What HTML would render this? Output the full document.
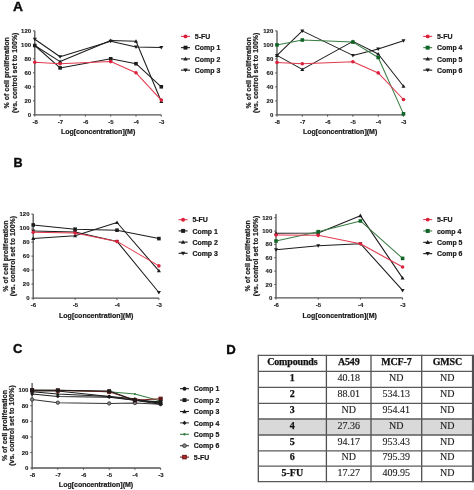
<!DOCTYPE html><html><head><meta charset="utf-8"><style>html,body{margin:0;padding:0;background:#fff;width:474px;height:490px;overflow:hidden}svg{display:block;filter:blur(0.3px)}</style></head><body>
<svg width="474" height="490" viewBox="0 0 474 490" font-family='"Liberation Sans", sans-serif'>
<rect width="474" height="490" fill="#fff"/>
<g transform="translate(12.9,11.4) scale(1.1,1)">
<text x="0.00" y="0.00" text-anchor="start" font-size="12.6" font-weight="bold" fill="#0a0a0a" stroke="#0a0a0a" stroke-width="0.35">A</text>
</g>
<g transform="translate(13.6,167.0) scale(1.0,1)">
<text x="0.00" y="0.00" text-anchor="start" font-size="12.6" font-weight="bold" fill="#0a0a0a" stroke="#0a0a0a" stroke-width="0.35">B</text>
</g>
<g transform="translate(13.0,353.4) scale(1.0,1)">
<text x="0.00" y="0.00" text-anchor="start" font-size="13.0" font-weight="bold" fill="#0a0a0a" stroke="#0a0a0a" stroke-width="0.35">C</text>
</g>
<g transform="translate(226.2,354.0) scale(1.0,1)">
<text x="0.00" y="0.00" text-anchor="start" font-size="13.2" font-weight="bold" fill="#0a0a0a" stroke="#0a0a0a" stroke-width="0.35">D</text>
</g>
<path d="M34.80,39.20 L60.10,56.70 L110.70,41.30 L136.00,46.90 L161.30,47.60" fill="none" stroke="#1c1c1c" stroke-width="1.05" stroke-linejoin="round"/>
<path d="M34.80,45.50 L60.10,61.60 L110.70,40.60 L136.00,41.30 L161.30,101.50" fill="none" stroke="#1c1c1c" stroke-width="1.05" stroke-linejoin="round"/>
<path d="M34.80,45.50 L60.10,67.90 L110.70,58.80 L136.00,63.70 L161.30,86.80" fill="none" stroke="#1c1c1c" stroke-width="1.05" stroke-linejoin="round"/>
<path d="M34.80,62.30 L60.10,63.70 L110.70,61.60 L136.00,72.80 L161.30,100.10" fill="none" stroke="#e23a4e" stroke-width="1.05" stroke-linejoin="round"/>
<path d="M34.80,30.80 L34.80,114.80 L161.30,114.80" fill="none" stroke="#555555" stroke-width="1.3"/>
<path d="M33.00,114.80 H34.80" stroke="#555555" stroke-width="1"/>
<text x="31.10" y="116.90" text-anchor="end" font-size="6.0" font-weight="bold" fill="#1a1a1a" stroke="#1a1a1a" stroke-width="0.12">0</text>
<path d="M33.00,100.80 H34.80" stroke="#555555" stroke-width="1"/>
<text x="31.10" y="102.90" text-anchor="end" font-size="6.0" font-weight="bold" fill="#1a1a1a" stroke="#1a1a1a" stroke-width="0.12">20</text>
<path d="M33.00,86.80 H34.80" stroke="#555555" stroke-width="1"/>
<text x="31.10" y="88.90" text-anchor="end" font-size="6.0" font-weight="bold" fill="#1a1a1a" stroke="#1a1a1a" stroke-width="0.12">40</text>
<path d="M33.00,72.80 H34.80" stroke="#555555" stroke-width="1"/>
<text x="31.10" y="74.90" text-anchor="end" font-size="6.0" font-weight="bold" fill="#1a1a1a" stroke="#1a1a1a" stroke-width="0.12">60</text>
<path d="M33.00,58.80 H34.80" stroke="#555555" stroke-width="1"/>
<text x="31.10" y="60.90" text-anchor="end" font-size="6.0" font-weight="bold" fill="#1a1a1a" stroke="#1a1a1a" stroke-width="0.12">80</text>
<path d="M33.00,44.80 H34.80" stroke="#555555" stroke-width="1"/>
<text x="31.10" y="46.90" text-anchor="end" font-size="6.0" font-weight="bold" fill="#1a1a1a" stroke="#1a1a1a" stroke-width="0.12">100</text>
<path d="M33.00,30.80 H34.80" stroke="#555555" stroke-width="1"/>
<text x="31.10" y="32.90" text-anchor="end" font-size="6.0" font-weight="bold" fill="#1a1a1a" stroke="#1a1a1a" stroke-width="0.12">120</text>
<path d="M34.80,114.80 V116.60" stroke="#555555" stroke-width="1"/>
<text x="35.10" y="124.10" text-anchor="middle" font-size="6.0" font-weight="bold" fill="#1a1a1a" stroke="#1a1a1a" stroke-width="0.12">-8</text>
<path d="M60.10,114.80 V116.60" stroke="#555555" stroke-width="1"/>
<text x="60.40" y="124.10" text-anchor="middle" font-size="6.0" font-weight="bold" fill="#1a1a1a" stroke="#1a1a1a" stroke-width="0.12">-7</text>
<path d="M85.40,114.80 V116.60" stroke="#555555" stroke-width="1"/>
<text x="85.70" y="124.10" text-anchor="middle" font-size="6.0" font-weight="bold" fill="#1a1a1a" stroke="#1a1a1a" stroke-width="0.12">-6</text>
<path d="M110.70,114.80 V116.60" stroke="#555555" stroke-width="1"/>
<text x="111.00" y="124.10" text-anchor="middle" font-size="6.0" font-weight="bold" fill="#1a1a1a" stroke="#1a1a1a" stroke-width="0.12">-5</text>
<path d="M136.00,114.80 V116.60" stroke="#555555" stroke-width="1"/>
<text x="136.30" y="124.10" text-anchor="middle" font-size="6.0" font-weight="bold" fill="#1a1a1a" stroke="#1a1a1a" stroke-width="0.12">-4</text>
<path d="M161.30,114.80 V116.60" stroke="#555555" stroke-width="1"/>
<text x="161.60" y="124.10" text-anchor="middle" font-size="6.0" font-weight="bold" fill="#1a1a1a" stroke="#1a1a1a" stroke-width="0.12">-3</text>
<path d="M34.80,41.22 L36.82,37.69 L32.78,37.69Z" fill="#1c1c1c"/>
<path d="M60.10,58.72 L62.12,55.19 L58.08,55.19Z" fill="#1c1c1c"/>
<path d="M110.70,43.32 L112.72,39.79 L108.68,39.79Z" fill="#1c1c1c"/>
<path d="M136.00,48.92 L138.02,45.39 L133.98,45.39Z" fill="#1c1c1c"/>
<path d="M161.30,49.62 L163.32,46.09 L159.28,46.09Z" fill="#1c1c1c"/>
<path d="M34.80,43.48 L36.82,47.01 L32.78,47.01Z" fill="#1c1c1c"/>
<path d="M60.10,59.58 L62.12,63.11 L58.08,63.11Z" fill="#1c1c1c"/>
<path d="M110.70,38.58 L112.72,42.11 L108.68,42.11Z" fill="#1c1c1c"/>
<path d="M136.00,39.28 L138.02,42.81 L133.98,42.81Z" fill="#1c1c1c"/>
<path d="M161.30,99.48 L163.32,103.01 L159.28,103.01Z" fill="#1c1c1c"/>
<rect x="33.01" y="43.71" width="3.58" height="3.58" fill="#1c1c1c"/>
<rect x="58.31" y="66.11" width="3.58" height="3.58" fill="#1c1c1c"/>
<rect x="108.91" y="57.01" width="3.58" height="3.58" fill="#1c1c1c"/>
<rect x="134.21" y="61.91" width="3.58" height="3.58" fill="#1c1c1c"/>
<rect x="159.51" y="85.01" width="3.58" height="3.58" fill="#1c1c1c"/>
<circle cx="34.80" cy="62.30" r="1.79" fill="#dc1f3a"/>
<circle cx="60.10" cy="63.70" r="1.79" fill="#dc1f3a"/>
<circle cx="110.70" cy="61.60" r="1.79" fill="#dc1f3a"/>
<circle cx="136.00" cy="72.80" r="1.79" fill="#dc1f3a"/>
<circle cx="161.30" cy="100.10" r="1.79" fill="#dc1f3a"/>
<text x="98.10" y="134.00" text-anchor="middle" font-size="7.0" font-weight="bold" fill="#1a1a1a" stroke="#1a1a1a" stroke-width="0.22">Log[concentration](M)</text>
<g transform="translate(9.20,72.80) rotate(-90)">
<text x="0.00" y="0.00" text-anchor="middle" font-size="7.0" font-weight="bold" fill="#1a1a1a" stroke="#1a1a1a" stroke-width="0.22">% of cell proliferation</text>
</g>
<g transform="translate(17.20,72.80) rotate(-90)">
<text x="0.00" y="0.00" text-anchor="middle" font-size="7.0" font-weight="bold" fill="#1a1a1a" stroke="#1a1a1a" stroke-width="0.22">(vs. control set to 100%)</text>
</g>
<path d="M181.00,36.40 H190.00" stroke="#e23a4e" stroke-width="1.1"/>
<circle cx="185.50" cy="36.40" r="1.97" fill="#dc1f3a"/>
<text x="194.80" y="39.00" text-anchor="start" font-size="6.95" font-weight="bold" fill="#1a1a1a" stroke="#1a1a1a" stroke-width="0.22">5-FU</text>
<path d="M181.00,47.65 H190.00" stroke="#1c1c1c" stroke-width="1.1"/>
<rect x="183.53" y="45.68" width="3.94" height="3.94" fill="#1c1c1c"/>
<text x="194.80" y="50.25" text-anchor="start" font-size="6.95" font-weight="bold" fill="#1a1a1a" stroke="#1a1a1a" stroke-width="0.22">Comp 1</text>
<path d="M181.00,58.90 H190.00" stroke="#1c1c1c" stroke-width="1.1"/>
<path d="M185.50,56.68 L187.72,60.56 L183.28,60.56Z" fill="#1c1c1c"/>
<text x="194.80" y="61.50" text-anchor="start" font-size="6.95" font-weight="bold" fill="#1a1a1a" stroke="#1a1a1a" stroke-width="0.22">Comp 2</text>
<path d="M181.00,70.15 H190.00" stroke="#1c1c1c" stroke-width="1.1"/>
<path d="M185.50,72.37 L187.72,68.49 L183.28,68.49Z" fill="#1c1c1c"/>
<text x="194.80" y="72.75" text-anchor="start" font-size="6.95" font-weight="bold" fill="#1a1a1a" stroke="#1a1a1a" stroke-width="0.22">Comp 3</text>
<path d="M277.00,55.40 L302.30,30.90 L352.90,55.40 L378.20,49.10 L403.50,40.70" fill="none" stroke="#1c1c1c" stroke-width="1.05" stroke-linejoin="round"/>
<path d="M277.00,55.40 L302.30,69.40 L352.90,41.40 L378.20,54.00 L403.50,86.20" fill="none" stroke="#1c1c1c" stroke-width="1.05" stroke-linejoin="round"/>
<path d="M277.00,44.90 L302.30,40.00 L352.90,42.10 L378.20,57.50 L403.50,113.85" fill="none" stroke="#3a7d42" stroke-width="1.05" stroke-linejoin="round"/>
<path d="M277.00,62.40 L302.30,63.80 L352.90,61.70 L378.20,72.90 L403.50,99.50" fill="none" stroke="#e23a4e" stroke-width="1.05" stroke-linejoin="round"/>
<path d="M277.00,30.80 L277.00,114.90 L403.50,114.90" fill="none" stroke="#555555" stroke-width="1.3"/>
<path d="M275.20,114.90 H277.00" stroke="#555555" stroke-width="1"/>
<text x="273.30" y="117.00" text-anchor="end" font-size="6.0" font-weight="bold" fill="#1a1a1a" stroke="#1a1a1a" stroke-width="0.12">0</text>
<path d="M275.20,100.90 H277.00" stroke="#555555" stroke-width="1"/>
<text x="273.30" y="103.00" text-anchor="end" font-size="6.0" font-weight="bold" fill="#1a1a1a" stroke="#1a1a1a" stroke-width="0.12">20</text>
<path d="M275.20,86.90 H277.00" stroke="#555555" stroke-width="1"/>
<text x="273.30" y="89.00" text-anchor="end" font-size="6.0" font-weight="bold" fill="#1a1a1a" stroke="#1a1a1a" stroke-width="0.12">40</text>
<path d="M275.20,72.90 H277.00" stroke="#555555" stroke-width="1"/>
<text x="273.30" y="75.00" text-anchor="end" font-size="6.0" font-weight="bold" fill="#1a1a1a" stroke="#1a1a1a" stroke-width="0.12">60</text>
<path d="M275.20,58.90 H277.00" stroke="#555555" stroke-width="1"/>
<text x="273.30" y="61.00" text-anchor="end" font-size="6.0" font-weight="bold" fill="#1a1a1a" stroke="#1a1a1a" stroke-width="0.12">80</text>
<path d="M275.20,44.90 H277.00" stroke="#555555" stroke-width="1"/>
<text x="273.30" y="47.00" text-anchor="end" font-size="6.0" font-weight="bold" fill="#1a1a1a" stroke="#1a1a1a" stroke-width="0.12">100</text>
<path d="M275.20,30.90 H277.00" stroke="#555555" stroke-width="1"/>
<text x="273.30" y="33.00" text-anchor="end" font-size="6.0" font-weight="bold" fill="#1a1a1a" stroke="#1a1a1a" stroke-width="0.12">120</text>
<path d="M277.00,114.90 V116.70" stroke="#555555" stroke-width="1"/>
<text x="277.30" y="124.10" text-anchor="middle" font-size="6.0" font-weight="bold" fill="#1a1a1a" stroke="#1a1a1a" stroke-width="0.12">-8</text>
<path d="M302.30,114.90 V116.70" stroke="#555555" stroke-width="1"/>
<text x="302.60" y="124.10" text-anchor="middle" font-size="6.0" font-weight="bold" fill="#1a1a1a" stroke="#1a1a1a" stroke-width="0.12">-7</text>
<path d="M327.60,114.90 V116.70" stroke="#555555" stroke-width="1"/>
<text x="327.90" y="124.10" text-anchor="middle" font-size="6.0" font-weight="bold" fill="#1a1a1a" stroke="#1a1a1a" stroke-width="0.12">-6</text>
<path d="M352.90,114.90 V116.70" stroke="#555555" stroke-width="1"/>
<text x="353.20" y="124.10" text-anchor="middle" font-size="6.0" font-weight="bold" fill="#1a1a1a" stroke="#1a1a1a" stroke-width="0.12">-5</text>
<path d="M378.20,114.90 V116.70" stroke="#555555" stroke-width="1"/>
<text x="378.50" y="124.10" text-anchor="middle" font-size="6.0" font-weight="bold" fill="#1a1a1a" stroke="#1a1a1a" stroke-width="0.12">-4</text>
<path d="M403.50,114.90 V116.70" stroke="#555555" stroke-width="1"/>
<text x="403.80" y="124.10" text-anchor="middle" font-size="6.0" font-weight="bold" fill="#1a1a1a" stroke="#1a1a1a" stroke-width="0.12">-3</text>
<path d="M277.00,57.42 L279.02,53.89 L274.98,53.89Z" fill="#1c1c1c"/>
<path d="M302.30,32.92 L304.32,29.39 L300.28,29.39Z" fill="#1c1c1c"/>
<path d="M352.90,57.42 L354.92,53.89 L350.88,53.89Z" fill="#1c1c1c"/>
<path d="M378.20,51.12 L380.22,47.59 L376.18,47.59Z" fill="#1c1c1c"/>
<path d="M403.50,42.72 L405.52,39.19 L401.48,39.19Z" fill="#1c1c1c"/>
<path d="M277.00,53.38 L279.02,56.91 L274.98,56.91Z" fill="#1c1c1c"/>
<path d="M302.30,67.38 L304.32,70.91 L300.28,70.91Z" fill="#1c1c1c"/>
<path d="M352.90,39.38 L354.92,42.91 L350.88,42.91Z" fill="#1c1c1c"/>
<path d="M378.20,51.98 L380.22,55.51 L376.18,55.51Z" fill="#1c1c1c"/>
<path d="M403.50,84.18 L405.52,87.71 L401.48,87.71Z" fill="#1c1c1c"/>
<rect x="275.21" y="43.11" width="3.58" height="3.58" fill="#0e6424"/>
<rect x="300.51" y="38.21" width="3.58" height="3.58" fill="#0e6424"/>
<rect x="351.11" y="40.31" width="3.58" height="3.58" fill="#0e6424"/>
<rect x="376.41" y="55.71" width="3.58" height="3.58" fill="#0e6424"/>
<rect x="401.71" y="112.06" width="3.58" height="3.58" fill="#0e6424"/>
<circle cx="277.00" cy="62.40" r="1.79" fill="#dc1f3a"/>
<circle cx="302.30" cy="63.80" r="1.79" fill="#dc1f3a"/>
<circle cx="352.90" cy="61.70" r="1.79" fill="#dc1f3a"/>
<circle cx="378.20" cy="72.90" r="1.79" fill="#dc1f3a"/>
<circle cx="403.50" cy="99.50" r="1.79" fill="#dc1f3a"/>
<text x="340.10" y="134.00" text-anchor="middle" font-size="7.0" font-weight="bold" fill="#1a1a1a" stroke="#1a1a1a" stroke-width="0.22">Log[concentration](M)</text>
<g transform="translate(251.00,72.85) rotate(-90)">
<text x="0.00" y="0.00" text-anchor="middle" font-size="7.0" font-weight="bold" fill="#1a1a1a" stroke="#1a1a1a" stroke-width="0.22">% of cell proliferation</text>
</g>
<g transform="translate(258.30,72.85) rotate(-90)">
<text x="0.00" y="0.00" text-anchor="middle" font-size="7.0" font-weight="bold" fill="#1a1a1a" stroke="#1a1a1a" stroke-width="0.22">(vs. control set to 100%)</text>
</g>
<path d="M423.20,36.40 H432.20" stroke="#e23a4e" stroke-width="1.1"/>
<circle cx="427.70" cy="36.40" r="1.97" fill="#dc1f3a"/>
<text x="437.00" y="39.00" text-anchor="start" font-size="6.95" font-weight="bold" fill="#1a1a1a" stroke="#1a1a1a" stroke-width="0.22">5-FU</text>
<path d="M423.20,47.65 H432.20" stroke="#3a7d42" stroke-width="1.1"/>
<rect x="425.73" y="45.68" width="3.94" height="3.94" fill="#0e6424"/>
<text x="437.00" y="50.25" text-anchor="start" font-size="6.95" font-weight="bold" fill="#1a1a1a" stroke="#1a1a1a" stroke-width="0.22">Comp 4</text>
<path d="M423.20,58.90 H432.20" stroke="#1c1c1c" stroke-width="1.1"/>
<path d="M427.70,56.68 L429.92,60.56 L425.48,60.56Z" fill="#1c1c1c"/>
<text x="437.00" y="61.50" text-anchor="start" font-size="6.95" font-weight="bold" fill="#1a1a1a" stroke="#1a1a1a" stroke-width="0.22">Comp 5</text>
<path d="M423.20,70.15 H432.20" stroke="#1c1c1c" stroke-width="1.1"/>
<path d="M427.70,72.37 L429.92,68.49 L425.48,68.49Z" fill="#1c1c1c"/>
<text x="437.00" y="72.75" text-anchor="start" font-size="6.95" font-weight="bold" fill="#1a1a1a" stroke="#1a1a1a" stroke-width="0.22">Comp 6</text>
<path d="M33.20,230.90 L75.10,231.95 L117.00,241.40 L158.90,292.50" fill="none" stroke="#1c1c1c" stroke-width="1.05" stroke-linejoin="round"/>
<path d="M33.20,238.60 L75.10,235.80 L117.00,222.50 L158.90,270.80" fill="none" stroke="#1c1c1c" stroke-width="1.05" stroke-linejoin="round"/>
<path d="M33.20,224.95 L75.10,229.15 L117.00,230.20 L158.90,238.60" fill="none" stroke="#1c1c1c" stroke-width="1.05" stroke-linejoin="round"/>
<path d="M33.20,232.30 L75.10,233.00 L117.00,241.40 L158.90,265.90" fill="none" stroke="#e23a4e" stroke-width="1.05" stroke-linejoin="round"/>
<path d="M33.20,214.10 L33.20,298.10 L158.90,298.10" fill="none" stroke="#555555" stroke-width="1.3"/>
<path d="M31.40,298.10 H33.20" stroke="#555555" stroke-width="1"/>
<text x="29.50" y="300.20" text-anchor="end" font-size="6.0" font-weight="bold" fill="#1a1a1a" stroke="#1a1a1a" stroke-width="0.12">0</text>
<path d="M31.40,284.10 H33.20" stroke="#555555" stroke-width="1"/>
<text x="29.50" y="286.20" text-anchor="end" font-size="6.0" font-weight="bold" fill="#1a1a1a" stroke="#1a1a1a" stroke-width="0.12">20</text>
<path d="M31.40,270.10 H33.20" stroke="#555555" stroke-width="1"/>
<text x="29.50" y="272.20" text-anchor="end" font-size="6.0" font-weight="bold" fill="#1a1a1a" stroke="#1a1a1a" stroke-width="0.12">40</text>
<path d="M31.40,256.10 H33.20" stroke="#555555" stroke-width="1"/>
<text x="29.50" y="258.20" text-anchor="end" font-size="6.0" font-weight="bold" fill="#1a1a1a" stroke="#1a1a1a" stroke-width="0.12">60</text>
<path d="M31.40,242.10 H33.20" stroke="#555555" stroke-width="1"/>
<text x="29.50" y="244.20" text-anchor="end" font-size="6.0" font-weight="bold" fill="#1a1a1a" stroke="#1a1a1a" stroke-width="0.12">80</text>
<path d="M31.40,228.10 H33.20" stroke="#555555" stroke-width="1"/>
<text x="29.50" y="230.20" text-anchor="end" font-size="6.0" font-weight="bold" fill="#1a1a1a" stroke="#1a1a1a" stroke-width="0.12">100</text>
<path d="M31.40,214.10 H33.20" stroke="#555555" stroke-width="1"/>
<text x="29.50" y="216.20" text-anchor="end" font-size="6.0" font-weight="bold" fill="#1a1a1a" stroke="#1a1a1a" stroke-width="0.12">120</text>
<path d="M33.20,298.10 V299.90" stroke="#555555" stroke-width="1"/>
<text x="33.50" y="307.10" text-anchor="middle" font-size="6.0" font-weight="bold" fill="#1a1a1a" stroke="#1a1a1a" stroke-width="0.12">-6</text>
<path d="M75.10,298.10 V299.90" stroke="#555555" stroke-width="1"/>
<text x="75.40" y="307.10" text-anchor="middle" font-size="6.0" font-weight="bold" fill="#1a1a1a" stroke="#1a1a1a" stroke-width="0.12">-5</text>
<path d="M117.00,298.10 V299.90" stroke="#555555" stroke-width="1"/>
<text x="117.30" y="307.10" text-anchor="middle" font-size="6.0" font-weight="bold" fill="#1a1a1a" stroke="#1a1a1a" stroke-width="0.12">-4</text>
<path d="M158.90,298.10 V299.90" stroke="#555555" stroke-width="1"/>
<text x="159.20" y="307.10" text-anchor="middle" font-size="6.0" font-weight="bold" fill="#1a1a1a" stroke="#1a1a1a" stroke-width="0.12">-3</text>
<path d="M33.20,232.92 L35.22,229.39 L31.18,229.39Z" fill="#1c1c1c"/>
<path d="M75.10,233.97 L77.12,230.44 L73.08,230.44Z" fill="#1c1c1c"/>
<path d="M117.00,243.42 L119.02,239.89 L114.98,239.89Z" fill="#1c1c1c"/>
<path d="M158.90,294.52 L160.92,290.99 L156.88,290.99Z" fill="#1c1c1c"/>
<path d="M33.20,236.58 L35.22,240.11 L31.18,240.11Z" fill="#1c1c1c"/>
<path d="M75.10,233.78 L77.12,237.31 L73.08,237.31Z" fill="#1c1c1c"/>
<path d="M117.00,220.48 L119.02,224.01 L114.98,224.01Z" fill="#1c1c1c"/>
<path d="M158.90,268.78 L160.92,272.31 L156.88,272.31Z" fill="#1c1c1c"/>
<rect x="31.41" y="223.16" width="3.58" height="3.58" fill="#1c1c1c"/>
<rect x="73.31" y="227.36" width="3.58" height="3.58" fill="#1c1c1c"/>
<rect x="115.21" y="228.41" width="3.58" height="3.58" fill="#1c1c1c"/>
<rect x="157.11" y="236.81" width="3.58" height="3.58" fill="#1c1c1c"/>
<circle cx="33.20" cy="232.30" r="1.79" fill="#dc1f3a"/>
<circle cx="75.10" cy="233.00" r="1.79" fill="#dc1f3a"/>
<circle cx="117.00" cy="241.40" r="1.79" fill="#dc1f3a"/>
<circle cx="158.90" cy="265.90" r="1.79" fill="#dc1f3a"/>
<text x="96.20" y="317.60" text-anchor="middle" font-size="7.0" font-weight="bold" fill="#1a1a1a" stroke="#1a1a1a" stroke-width="0.22">Log[concentration](M)</text>
<g transform="translate(8.20,256.10) rotate(-90)">
<text x="0.00" y="0.00" text-anchor="middle" font-size="7.0" font-weight="bold" fill="#1a1a1a" stroke="#1a1a1a" stroke-width="0.22">% of cell proliferation</text>
</g>
<g transform="translate(15.10,256.10) rotate(-90)">
<text x="0.00" y="0.00" text-anchor="middle" font-size="7.0" font-weight="bold" fill="#1a1a1a" stroke="#1a1a1a" stroke-width="0.22">(vs. control set to 100%)</text>
</g>
<path d="M178.60,219.70 H187.60" stroke="#e23a4e" stroke-width="1.1"/>
<circle cx="183.10" cy="219.70" r="1.97" fill="#dc1f3a"/>
<text x="192.40" y="222.30" text-anchor="start" font-size="6.95" font-weight="bold" fill="#1a1a1a" stroke="#1a1a1a" stroke-width="0.22">5-FU</text>
<path d="M178.60,230.90 H187.60" stroke="#1c1c1c" stroke-width="1.1"/>
<rect x="181.13" y="228.93" width="3.94" height="3.94" fill="#1c1c1c"/>
<text x="192.40" y="233.50" text-anchor="start" font-size="6.95" font-weight="bold" fill="#1a1a1a" stroke="#1a1a1a" stroke-width="0.22">Comp 1</text>
<path d="M178.60,242.10 H187.60" stroke="#1c1c1c" stroke-width="1.1"/>
<path d="M183.10,239.88 L185.32,243.76 L180.88,243.76Z" fill="#1c1c1c"/>
<text x="192.40" y="244.70" text-anchor="start" font-size="6.95" font-weight="bold" fill="#1a1a1a" stroke="#1a1a1a" stroke-width="0.22">Comp 2</text>
<path d="M178.60,253.30 H187.60" stroke="#1c1c1c" stroke-width="1.1"/>
<path d="M183.10,255.52 L185.32,251.64 L180.88,251.64Z" fill="#1c1c1c"/>
<text x="192.40" y="255.90" text-anchor="start" font-size="6.95" font-weight="bold" fill="#1a1a1a" stroke="#1a1a1a" stroke-width="0.22">Comp 3</text>
<path d="M276.00,249.70 L318.20,245.70 L360.40,243.69 L402.60,290.45" fill="none" stroke="#1c1c1c" stroke-width="1.05" stroke-linejoin="round"/>
<path d="M276.00,233.34 L318.20,233.00 L360.40,215.64 L402.60,278.09" fill="none" stroke="#1c1c1c" stroke-width="1.05" stroke-linejoin="round"/>
<path d="M276.00,241.02 L318.20,231.67 L360.40,220.98 L402.60,258.39" fill="none" stroke="#3a7d42" stroke-width="1.05" stroke-linejoin="round"/>
<path d="M276.00,235.01 L318.20,235.34 L360.40,243.69 L402.60,267.07" fill="none" stroke="#e23a4e" stroke-width="1.05" stroke-linejoin="round"/>
<path d="M276.00,214.00 L276.00,297.80 L402.60,297.80" fill="none" stroke="#555555" stroke-width="1.3"/>
<path d="M274.20,297.80 H276.00" stroke="#555555" stroke-width="1"/>
<text x="272.30" y="299.90" text-anchor="end" font-size="6.0" font-weight="bold" fill="#1a1a1a" stroke="#1a1a1a" stroke-width="0.12">0</text>
<path d="M274.20,284.44 H276.00" stroke="#555555" stroke-width="1"/>
<text x="272.30" y="286.54" text-anchor="end" font-size="6.0" font-weight="bold" fill="#1a1a1a" stroke="#1a1a1a" stroke-width="0.12">20</text>
<path d="M274.20,271.08 H276.00" stroke="#555555" stroke-width="1"/>
<text x="272.30" y="273.18" text-anchor="end" font-size="6.0" font-weight="bold" fill="#1a1a1a" stroke="#1a1a1a" stroke-width="0.12">40</text>
<path d="M274.20,257.72 H276.00" stroke="#555555" stroke-width="1"/>
<text x="272.30" y="259.82" text-anchor="end" font-size="6.0" font-weight="bold" fill="#1a1a1a" stroke="#1a1a1a" stroke-width="0.12">60</text>
<path d="M274.20,244.36 H276.00" stroke="#555555" stroke-width="1"/>
<text x="272.30" y="246.46" text-anchor="end" font-size="6.0" font-weight="bold" fill="#1a1a1a" stroke="#1a1a1a" stroke-width="0.12">80</text>
<path d="M274.20,231.00 H276.00" stroke="#555555" stroke-width="1"/>
<text x="272.30" y="233.10" text-anchor="end" font-size="6.0" font-weight="bold" fill="#1a1a1a" stroke="#1a1a1a" stroke-width="0.12">100</text>
<path d="M274.20,217.64 H276.00" stroke="#555555" stroke-width="1"/>
<text x="272.30" y="219.74" text-anchor="end" font-size="6.0" font-weight="bold" fill="#1a1a1a" stroke="#1a1a1a" stroke-width="0.12">120</text>
<path d="M276.00,297.80 V299.60" stroke="#555555" stroke-width="1"/>
<text x="276.30" y="307.10" text-anchor="middle" font-size="6.0" font-weight="bold" fill="#1a1a1a" stroke="#1a1a1a" stroke-width="0.12">-6</text>
<path d="M318.20,297.80 V299.60" stroke="#555555" stroke-width="1"/>
<text x="318.50" y="307.10" text-anchor="middle" font-size="6.0" font-weight="bold" fill="#1a1a1a" stroke="#1a1a1a" stroke-width="0.12">-5</text>
<path d="M360.40,297.80 V299.60" stroke="#555555" stroke-width="1"/>
<text x="360.70" y="307.10" text-anchor="middle" font-size="6.0" font-weight="bold" fill="#1a1a1a" stroke="#1a1a1a" stroke-width="0.12">-4</text>
<path d="M402.60,297.80 V299.60" stroke="#555555" stroke-width="1"/>
<text x="402.90" y="307.10" text-anchor="middle" font-size="6.0" font-weight="bold" fill="#1a1a1a" stroke="#1a1a1a" stroke-width="0.12">-3</text>
<path d="M276.00,251.72 L278.02,248.19 L273.98,248.19Z" fill="#1c1c1c"/>
<path d="M318.20,247.71 L320.22,244.18 L316.18,244.18Z" fill="#1c1c1c"/>
<path d="M360.40,245.71 L362.42,242.18 L358.38,242.18Z" fill="#1c1c1c"/>
<path d="M402.60,292.47 L404.62,288.94 L400.58,288.94Z" fill="#1c1c1c"/>
<path d="M276.00,231.32 L278.02,234.85 L273.98,234.85Z" fill="#1c1c1c"/>
<path d="M318.20,230.99 L320.22,234.52 L316.18,234.52Z" fill="#1c1c1c"/>
<path d="M360.40,213.62 L362.42,217.15 L358.38,217.15Z" fill="#1c1c1c"/>
<path d="M402.60,276.08 L404.62,279.61 L400.58,279.61Z" fill="#1c1c1c"/>
<rect x="274.21" y="239.23" width="3.58" height="3.58" fill="#0e6424"/>
<rect x="316.41" y="229.88" width="3.58" height="3.58" fill="#0e6424"/>
<rect x="358.61" y="219.19" width="3.58" height="3.58" fill="#0e6424"/>
<rect x="400.81" y="256.60" width="3.58" height="3.58" fill="#0e6424"/>
<circle cx="276.00" cy="235.01" r="1.79" fill="#dc1f3a"/>
<circle cx="318.20" cy="235.34" r="1.79" fill="#dc1f3a"/>
<circle cx="360.40" cy="243.69" r="1.79" fill="#dc1f3a"/>
<circle cx="402.60" cy="267.07" r="1.79" fill="#dc1f3a"/>
<text x="339.70" y="318.00" text-anchor="middle" font-size="7.0" font-weight="bold" fill="#1a1a1a" stroke="#1a1a1a" stroke-width="0.22">Log[concentration](M)</text>
<g transform="translate(250.30,255.90) rotate(-90)">
<text x="0.00" y="0.00" text-anchor="middle" font-size="7.0" font-weight="bold" fill="#1a1a1a" stroke="#1a1a1a" stroke-width="0.22">% of cell proliferation</text>
</g>
<g transform="translate(257.60,255.90) rotate(-90)">
<text x="0.00" y="0.00" text-anchor="middle" font-size="7.0" font-weight="bold" fill="#1a1a1a" stroke="#1a1a1a" stroke-width="0.22">(vs. control set to 100%)</text>
</g>
<path d="M423.20,219.60 H432.20" stroke="#e23a4e" stroke-width="1.1"/>
<circle cx="427.70" cy="219.60" r="1.97" fill="#dc1f3a"/>
<text x="437.00" y="222.20" text-anchor="start" font-size="6.95" font-weight="bold" fill="#1a1a1a" stroke="#1a1a1a" stroke-width="0.22">5-FU</text>
<path d="M423.20,230.95 H432.20" stroke="#3a7d42" stroke-width="1.1"/>
<rect x="425.73" y="228.98" width="3.94" height="3.94" fill="#0e6424"/>
<text x="437.00" y="233.55" text-anchor="start" font-size="6.95" font-weight="bold" fill="#1a1a1a" stroke="#1a1a1a" stroke-width="0.22">comp 4</text>
<path d="M423.20,242.30 H432.20" stroke="#1c1c1c" stroke-width="1.1"/>
<path d="M427.70,240.08 L429.92,243.96 L425.48,243.96Z" fill="#1c1c1c"/>
<text x="437.00" y="244.90" text-anchor="start" font-size="6.95" font-weight="bold" fill="#1a1a1a" stroke="#1a1a1a" stroke-width="0.22">Comp 5</text>
<path d="M423.20,253.65 H432.20" stroke="#1c1c1c" stroke-width="1.1"/>
<path d="M427.70,255.87 L429.92,251.99 L425.48,251.99Z" fill="#1c1c1c"/>
<text x="437.00" y="256.25" text-anchor="start" font-size="6.95" font-weight="bold" fill="#1a1a1a" stroke="#1a1a1a" stroke-width="0.22">Comp 6</text>
<path d="M32.10,399.54 L57.80,402.65 L109.20,403.43 L134.90,403.04 L160.60,404.20" fill="none" stroke="#333" stroke-width="1.05" stroke-linejoin="round"/>
<path d="M32.10,394.09 L57.80,396.42 L109.20,397.20 L134.90,400.31 L160.60,404.20" fill="none" stroke="#1c1c1c" stroke-width="1.05" stroke-linejoin="round"/>
<path d="M32.10,391.76 L57.80,394.09 L109.20,396.42 L134.90,398.76 L160.60,403.43" fill="none" stroke="#1c1c1c" stroke-width="1.05" stroke-linejoin="round"/>
<path d="M32.10,390.98 L57.80,390.98 L109.20,396.42 L134.90,400.31 L160.60,402.65" fill="none" stroke="#1c1c1c" stroke-width="1.05" stroke-linejoin="round"/>
<path d="M32.10,390.20 L57.80,390.20 L109.20,391.76 L134.90,394.09 L160.60,401.09" fill="none" stroke="#3a7d42" stroke-width="1.05" stroke-linejoin="round"/>
<path d="M32.10,390.20 L57.80,390.59 L109.20,391.76 L134.90,400.31 L160.60,398.76" fill="none" stroke="#7a2020" stroke-width="1.05" stroke-linejoin="round"/>
<path d="M32.10,390.20 L57.80,390.20 L109.20,390.98 L134.90,400.31 L160.60,401.87" fill="none" stroke="#1c1c1c" stroke-width="1.05" stroke-linejoin="round"/>
<path d="M32.10,383.00 L32.10,468.00 L160.60,468.00" fill="none" stroke="#555555" stroke-width="1.3"/>
<path d="M30.30,468.00 H32.10" stroke="#555555" stroke-width="1"/>
<text x="28.40" y="470.10" text-anchor="end" font-size="6.0" font-weight="bold" fill="#1a1a1a" stroke="#1a1a1a" stroke-width="0.12">0</text>
<path d="M30.30,452.44 H32.10" stroke="#555555" stroke-width="1"/>
<text x="28.40" y="454.54" text-anchor="end" font-size="6.0" font-weight="bold" fill="#1a1a1a" stroke="#1a1a1a" stroke-width="0.12">20</text>
<path d="M30.30,436.88 H32.10" stroke="#555555" stroke-width="1"/>
<text x="28.40" y="438.98" text-anchor="end" font-size="6.0" font-weight="bold" fill="#1a1a1a" stroke="#1a1a1a" stroke-width="0.12">40</text>
<path d="M30.30,421.32 H32.10" stroke="#555555" stroke-width="1"/>
<text x="28.40" y="423.42" text-anchor="end" font-size="6.0" font-weight="bold" fill="#1a1a1a" stroke="#1a1a1a" stroke-width="0.12">60</text>
<path d="M30.30,405.76 H32.10" stroke="#555555" stroke-width="1"/>
<text x="28.40" y="407.86" text-anchor="end" font-size="6.0" font-weight="bold" fill="#1a1a1a" stroke="#1a1a1a" stroke-width="0.12">80</text>
<path d="M30.30,390.20 H32.10" stroke="#555555" stroke-width="1"/>
<text x="28.40" y="392.30" text-anchor="end" font-size="6.0" font-weight="bold" fill="#1a1a1a" stroke="#1a1a1a" stroke-width="0.12">100</text>
<path d="M32.10,468.00 V469.80" stroke="#555555" stroke-width="1"/>
<text x="32.40" y="477.40" text-anchor="middle" font-size="6.0" font-weight="bold" fill="#1a1a1a" stroke="#1a1a1a" stroke-width="0.12">-8</text>
<path d="M57.80,468.00 V469.80" stroke="#555555" stroke-width="1"/>
<text x="58.10" y="477.40" text-anchor="middle" font-size="6.0" font-weight="bold" fill="#1a1a1a" stroke="#1a1a1a" stroke-width="0.12">-7</text>
<path d="M83.50,468.00 V469.80" stroke="#555555" stroke-width="1"/>
<text x="83.80" y="477.40" text-anchor="middle" font-size="6.0" font-weight="bold" fill="#1a1a1a" stroke="#1a1a1a" stroke-width="0.12">-6</text>
<path d="M109.20,468.00 V469.80" stroke="#555555" stroke-width="1"/>
<text x="109.50" y="477.40" text-anchor="middle" font-size="6.0" font-weight="bold" fill="#1a1a1a" stroke="#1a1a1a" stroke-width="0.12">-5</text>
<path d="M134.90,468.00 V469.80" stroke="#555555" stroke-width="1"/>
<text x="135.20" y="477.40" text-anchor="middle" font-size="6.0" font-weight="bold" fill="#1a1a1a" stroke="#1a1a1a" stroke-width="0.12">-4</text>
<path d="M160.60,468.00 V469.80" stroke="#555555" stroke-width="1"/>
<text x="160.90" y="477.40" text-anchor="middle" font-size="6.0" font-weight="bold" fill="#1a1a1a" stroke="#1a1a1a" stroke-width="0.12">-3</text>
<circle cx="32.10" cy="399.54" r="1.68" fill="#888" stroke="#333" stroke-width="0.9"/>
<circle cx="57.80" cy="402.65" r="1.68" fill="#888" stroke="#333" stroke-width="0.9"/>
<circle cx="109.20" cy="403.43" r="1.68" fill="#888" stroke="#333" stroke-width="0.9"/>
<circle cx="134.90" cy="403.04" r="1.68" fill="#888" stroke="#333" stroke-width="0.9"/>
<circle cx="160.60" cy="404.20" r="1.68" fill="#888" stroke="#333" stroke-width="0.9"/>
<path d="M32.10,392.19 L34.00,394.09 L32.10,395.99 L30.20,394.09Z" fill="#1c1c1c"/>
<path d="M57.80,394.52 L59.70,396.42 L57.80,398.33 L55.90,396.42Z" fill="#1c1c1c"/>
<path d="M109.20,395.30 L111.10,397.20 L109.20,399.11 L107.30,397.20Z" fill="#1c1c1c"/>
<path d="M134.90,398.41 L136.80,400.31 L134.90,402.22 L133.00,400.31Z" fill="#1c1c1c"/>
<path d="M160.60,402.30 L162.50,404.20 L160.60,406.11 L158.70,404.20Z" fill="#1c1c1c"/>
<path d="M32.10,389.74 L34.12,393.27 L30.08,393.27Z" fill="#1c1c1c"/>
<path d="M57.80,392.07 L59.82,395.60 L55.78,395.60Z" fill="#1c1c1c"/>
<path d="M109.20,394.41 L111.22,397.94 L107.18,397.94Z" fill="#1c1c1c"/>
<path d="M134.90,396.74 L136.92,400.27 L132.88,400.27Z" fill="#1c1c1c"/>
<path d="M160.60,401.41 L162.62,404.94 L158.58,404.94Z" fill="#1c1c1c"/>
<circle cx="32.10" cy="390.98" r="1.79" fill="#1c1c1c"/>
<circle cx="57.80" cy="390.98" r="1.79" fill="#1c1c1c"/>
<circle cx="109.20" cy="396.42" r="1.79" fill="#1c1c1c"/>
<circle cx="134.90" cy="400.31" r="1.79" fill="#1c1c1c"/>
<circle cx="160.60" cy="402.65" r="1.79" fill="#1c1c1c"/>
<circle cx="32.10" cy="390.20" r="1.12" fill="#3a7d42"/>
<circle cx="57.80" cy="390.20" r="1.12" fill="#3a7d42"/>
<circle cx="109.20" cy="391.76" r="1.12" fill="#3a7d42"/>
<circle cx="134.90" cy="394.09" r="1.12" fill="#3a7d42"/>
<circle cx="160.60" cy="401.09" r="1.12" fill="#3a7d42"/>
<rect x="30.48" y="388.58" width="3.25" height="3.25" fill="#5a1818" stroke="#5a1010" stroke-width="0.9"/>
<rect x="56.18" y="388.96" width="3.25" height="3.25" fill="#5a1818" stroke="#5a1010" stroke-width="0.9"/>
<rect x="107.58" y="390.13" width="3.25" height="3.25" fill="#5a1818" stroke="#5a1010" stroke-width="0.9"/>
<rect x="133.28" y="398.69" width="3.25" height="3.25" fill="#5a1818" stroke="#5a1010" stroke-width="0.9"/>
<rect x="158.98" y="397.13" width="3.25" height="3.25" fill="#5a1818" stroke="#5a1010" stroke-width="0.9"/>
<rect x="30.31" y="388.41" width="3.58" height="3.58" fill="#1c1c1c"/>
<rect x="56.01" y="388.41" width="3.58" height="3.58" fill="#1c1c1c"/>
<rect x="107.41" y="389.19" width="3.58" height="3.58" fill="#1c1c1c"/>
<rect x="133.11" y="398.52" width="3.58" height="3.58" fill="#1c1c1c"/>
<rect x="158.81" y="400.08" width="3.58" height="3.58" fill="#1c1c1c"/>
<text x="96.00" y="486.60" text-anchor="middle" font-size="7.0" font-weight="bold" fill="#1a1a1a" stroke="#1a1a1a" stroke-width="0.22">Log[concentration](M)</text>
<g transform="translate(7.40,425.50) rotate(-90)">
<text x="0.00" y="0.00" text-anchor="middle" font-size="7.0" font-weight="bold" fill="#1a1a1a" stroke="#1a1a1a" stroke-width="0.22">% of cell proliferation</text>
</g>
<g transform="translate(14.30,425.50) rotate(-90)">
<text x="0.00" y="0.00" text-anchor="middle" font-size="7.0" font-weight="bold" fill="#1a1a1a" stroke="#1a1a1a" stroke-width="0.22">(vs. control set to 100%)</text>
</g>
<path d="M180.00,388.70 H189.00" stroke="#1c1c1c" stroke-width="1.1"/>
<circle cx="184.50" cy="388.70" r="1.97" fill="#1c1c1c"/>
<text x="193.80" y="391.30" text-anchor="start" font-size="6.95" font-weight="bold" fill="#1a1a1a" stroke="#1a1a1a" stroke-width="0.22">Comp 1</text>
<path d="M180.00,400.10 H189.00" stroke="#1c1c1c" stroke-width="1.1"/>
<rect x="182.53" y="398.13" width="3.94" height="3.94" fill="#1c1c1c"/>
<text x="193.80" y="402.70" text-anchor="start" font-size="6.95" font-weight="bold" fill="#1a1a1a" stroke="#1a1a1a" stroke-width="0.22">Comp 2</text>
<path d="M180.00,411.50 H189.00" stroke="#1c1c1c" stroke-width="1.1"/>
<path d="M184.50,409.28 L186.72,413.16 L182.28,413.16Z" fill="#1c1c1c"/>
<text x="193.80" y="414.10" text-anchor="start" font-size="6.95" font-weight="bold" fill="#1a1a1a" stroke="#1a1a1a" stroke-width="0.22">Comp 3</text>
<path d="M180.00,422.90 H189.00" stroke="#444" stroke-width="1.1"/>
<path d="M184.50,420.81 L186.59,422.90 L184.50,424.99 L182.41,422.90Z" fill="#1c1c1c"/>
<text x="193.80" y="425.50" text-anchor="start" font-size="6.95" font-weight="bold" fill="#1a1a1a" stroke="#1a1a1a" stroke-width="0.22">Comp 4</text>
<path d="M180.00,434.30 H189.00" stroke="#3a7d42" stroke-width="1.1"/>
<circle cx="184.50" cy="434.30" r="1.23" fill="#3a7d42"/>
<text x="193.80" y="436.90" text-anchor="start" font-size="6.95" font-weight="bold" fill="#1a1a1a" stroke="#1a1a1a" stroke-width="0.22">Comp 5</text>
<path d="M180.00,445.70 H189.00" stroke="#333" stroke-width="1.1"/>
<circle cx="184.50" cy="445.70" r="1.85" fill="#888" stroke="#333" stroke-width="0.9"/>
<text x="193.80" y="448.30" text-anchor="start" font-size="6.95" font-weight="bold" fill="#1a1a1a" stroke="#1a1a1a" stroke-width="0.22">Comp 6</text>
<path d="M180.00,457.10 H189.00" stroke="#7a2020" stroke-width="1.1"/>
<rect x="182.71" y="455.31" width="3.57" height="3.57" fill="#b82828" stroke="#5a1010" stroke-width="0.9"/>
<text x="193.80" y="459.70" text-anchor="start" font-size="6.95" font-weight="bold" fill="#1a1a1a" stroke="#1a1a1a" stroke-width="0.22">5-FU</text>
<rect x="258.3" y="419.0" width="214.7" height="16.0" fill="#d9d9d9"/>
<path d="M258.3,354.79999999999995 V482.3" stroke="#505050" stroke-width="1.3"/>
<path d="M326.4,354.79999999999995 V482.3" stroke="#505050" stroke-width="1.3"/>
<path d="M371.0,354.79999999999995 V482.3" stroke="#505050" stroke-width="1.3"/>
<path d="M421.7,354.79999999999995 V482.3" stroke="#505050" stroke-width="1.3"/>
<path d="M473.0,354.79999999999995 V482.3" stroke="#505050" stroke-width="2.2"/>
<path d="M258.3,355.4 H473.0" stroke="#5a5a5a" stroke-width="1.3"/>
<path d="M258.3,371.4 H473.0" stroke="#5a5a5a" stroke-width="1.3"/>
<path d="M258.3,387.4 H473.0" stroke="#5a5a5a" stroke-width="1.3"/>
<path d="M258.3,403.4 H473.0" stroke="#5a5a5a" stroke-width="1.3"/>
<path d="M258.3,419.0 H473.0" stroke="#5a5a5a" stroke-width="1.3"/>
<path d="M258.3,435.0 H473.0" stroke="#5a5a5a" stroke-width="1.3"/>
<path d="M258.3,450.8 H473.0" stroke="#5a5a5a" stroke-width="1.3"/>
<path d="M258.3,466.1 H473.0" stroke="#5a5a5a" stroke-width="1.3"/>
<path d="M258.3,481.7 H473.0" stroke="#5a5a5a" stroke-width="1.3"/>
<text x="292.35" y="365.00" text-anchor="middle" font-family='"Liberation Serif", serif' font-size="10" font-weight="bold" fill="#111" letter-spacing="-0.15" stroke="#111" stroke-width="0.25">Compounds</text>
<text x="348.70" y="365.00" text-anchor="middle" font-family='"Liberation Serif", serif' font-size="10" font-weight="bold" fill="#111" letter-spacing="-0.15" stroke="#111" stroke-width="0.25">A549</text>
<text x="396.35" y="365.00" text-anchor="middle" font-family='"Liberation Serif", serif' font-size="10" font-weight="bold" fill="#111" letter-spacing="-0.15" stroke="#111" stroke-width="0.25">MCF-7</text>
<text x="447.35" y="365.00" text-anchor="middle" font-family='"Liberation Serif", serif' font-size="10" font-weight="bold" fill="#111" letter-spacing="-0.15" stroke="#111" stroke-width="0.25">GMSC</text>
<text x="292.35" y="381.00" text-anchor="middle" font-family='"Liberation Serif", serif' font-size="10" font-weight="bold" fill="#111" stroke="#111" stroke-width="0.25">1</text>
<text x="348.70" y="381.00" text-anchor="middle" font-family='"Liberation Serif", serif' font-size="10" font-weight="normal" fill="#1c1c1c" stroke="#1c1c1c" stroke-width="0.12">40.18</text>
<text x="396.35" y="381.00" text-anchor="middle" font-family='"Liberation Serif", serif' font-size="10" font-weight="normal" fill="#1c1c1c" stroke="#1c1c1c" stroke-width="0.12">ND</text>
<text x="447.35" y="381.00" text-anchor="middle" font-family='"Liberation Serif", serif' font-size="10" font-weight="normal" fill="#1c1c1c" stroke="#1c1c1c" stroke-width="0.12">ND</text>
<text x="292.35" y="397.00" text-anchor="middle" font-family='"Liberation Serif", serif' font-size="10" font-weight="bold" fill="#111" stroke="#111" stroke-width="0.25">2</text>
<text x="348.70" y="397.00" text-anchor="middle" font-family='"Liberation Serif", serif' font-size="10" font-weight="normal" fill="#1c1c1c" stroke="#1c1c1c" stroke-width="0.12">88.01</text>
<text x="396.35" y="397.00" text-anchor="middle" font-family='"Liberation Serif", serif' font-size="10" font-weight="normal" fill="#1c1c1c" stroke="#1c1c1c" stroke-width="0.12">534.13</text>
<text x="447.35" y="397.00" text-anchor="middle" font-family='"Liberation Serif", serif' font-size="10" font-weight="normal" fill="#1c1c1c" stroke="#1c1c1c" stroke-width="0.12">ND</text>
<text x="292.35" y="412.80" text-anchor="middle" font-family='"Liberation Serif", serif' font-size="10" font-weight="bold" fill="#111" stroke="#111" stroke-width="0.25">3</text>
<text x="348.70" y="412.80" text-anchor="middle" font-family='"Liberation Serif", serif' font-size="10" font-weight="normal" fill="#1c1c1c" stroke="#1c1c1c" stroke-width="0.12">ND</text>
<text x="396.35" y="412.80" text-anchor="middle" font-family='"Liberation Serif", serif' font-size="10" font-weight="normal" fill="#1c1c1c" stroke="#1c1c1c" stroke-width="0.12">954.41</text>
<text x="447.35" y="412.80" text-anchor="middle" font-family='"Liberation Serif", serif' font-size="10" font-weight="normal" fill="#1c1c1c" stroke="#1c1c1c" stroke-width="0.12">ND</text>
<text x="292.35" y="428.60" text-anchor="middle" font-family='"Liberation Serif", serif' font-size="10" font-weight="bold" fill="#111" stroke="#111" stroke-width="0.25">4</text>
<text x="348.70" y="428.60" text-anchor="middle" font-family='"Liberation Serif", serif' font-size="10" font-weight="normal" fill="#1c1c1c" stroke="#1c1c1c" stroke-width="0.12">27.36</text>
<text x="396.35" y="428.60" text-anchor="middle" font-family='"Liberation Serif", serif' font-size="10" font-weight="normal" fill="#1c1c1c" stroke="#1c1c1c" stroke-width="0.12">ND</text>
<text x="447.35" y="428.60" text-anchor="middle" font-family='"Liberation Serif", serif' font-size="10" font-weight="normal" fill="#1c1c1c" stroke="#1c1c1c" stroke-width="0.12">ND</text>
<text x="292.35" y="444.50" text-anchor="middle" font-family='"Liberation Serif", serif' font-size="10" font-weight="bold" fill="#111" stroke="#111" stroke-width="0.25">5</text>
<text x="348.70" y="444.50" text-anchor="middle" font-family='"Liberation Serif", serif' font-size="10" font-weight="normal" fill="#1c1c1c" stroke="#1c1c1c" stroke-width="0.12">94.17</text>
<text x="396.35" y="444.50" text-anchor="middle" font-family='"Liberation Serif", serif' font-size="10" font-weight="normal" fill="#1c1c1c" stroke="#1c1c1c" stroke-width="0.12">953.43</text>
<text x="447.35" y="444.50" text-anchor="middle" font-family='"Liberation Serif", serif' font-size="10" font-weight="normal" fill="#1c1c1c" stroke="#1c1c1c" stroke-width="0.12">ND</text>
<text x="292.35" y="460.05" text-anchor="middle" font-family='"Liberation Serif", serif' font-size="10" font-weight="bold" fill="#111" stroke="#111" stroke-width="0.25">6</text>
<text x="348.70" y="460.05" text-anchor="middle" font-family='"Liberation Serif", serif' font-size="10" font-weight="normal" fill="#1c1c1c" stroke="#1c1c1c" stroke-width="0.12">ND</text>
<text x="396.35" y="460.05" text-anchor="middle" font-family='"Liberation Serif", serif' font-size="10" font-weight="normal" fill="#1c1c1c" stroke="#1c1c1c" stroke-width="0.12">795.39</text>
<text x="447.35" y="460.05" text-anchor="middle" font-family='"Liberation Serif", serif' font-size="10" font-weight="normal" fill="#1c1c1c" stroke="#1c1c1c" stroke-width="0.12">ND</text>
<text x="292.35" y="475.50" text-anchor="middle" font-family='"Liberation Serif", serif' font-size="10" font-weight="bold" fill="#111" stroke="#111" stroke-width="0.25">5-FU</text>
<text x="348.70" y="475.50" text-anchor="middle" font-family='"Liberation Serif", serif' font-size="10" font-weight="normal" fill="#1c1c1c" stroke="#1c1c1c" stroke-width="0.12">17.27</text>
<text x="396.35" y="475.50" text-anchor="middle" font-family='"Liberation Serif", serif' font-size="10" font-weight="normal" fill="#1c1c1c" stroke="#1c1c1c" stroke-width="0.12">409.95</text>
<text x="447.35" y="475.50" text-anchor="middle" font-family='"Liberation Serif", serif' font-size="10" font-weight="normal" fill="#1c1c1c" stroke="#1c1c1c" stroke-width="0.12">ND</text>
</svg></body></html>
